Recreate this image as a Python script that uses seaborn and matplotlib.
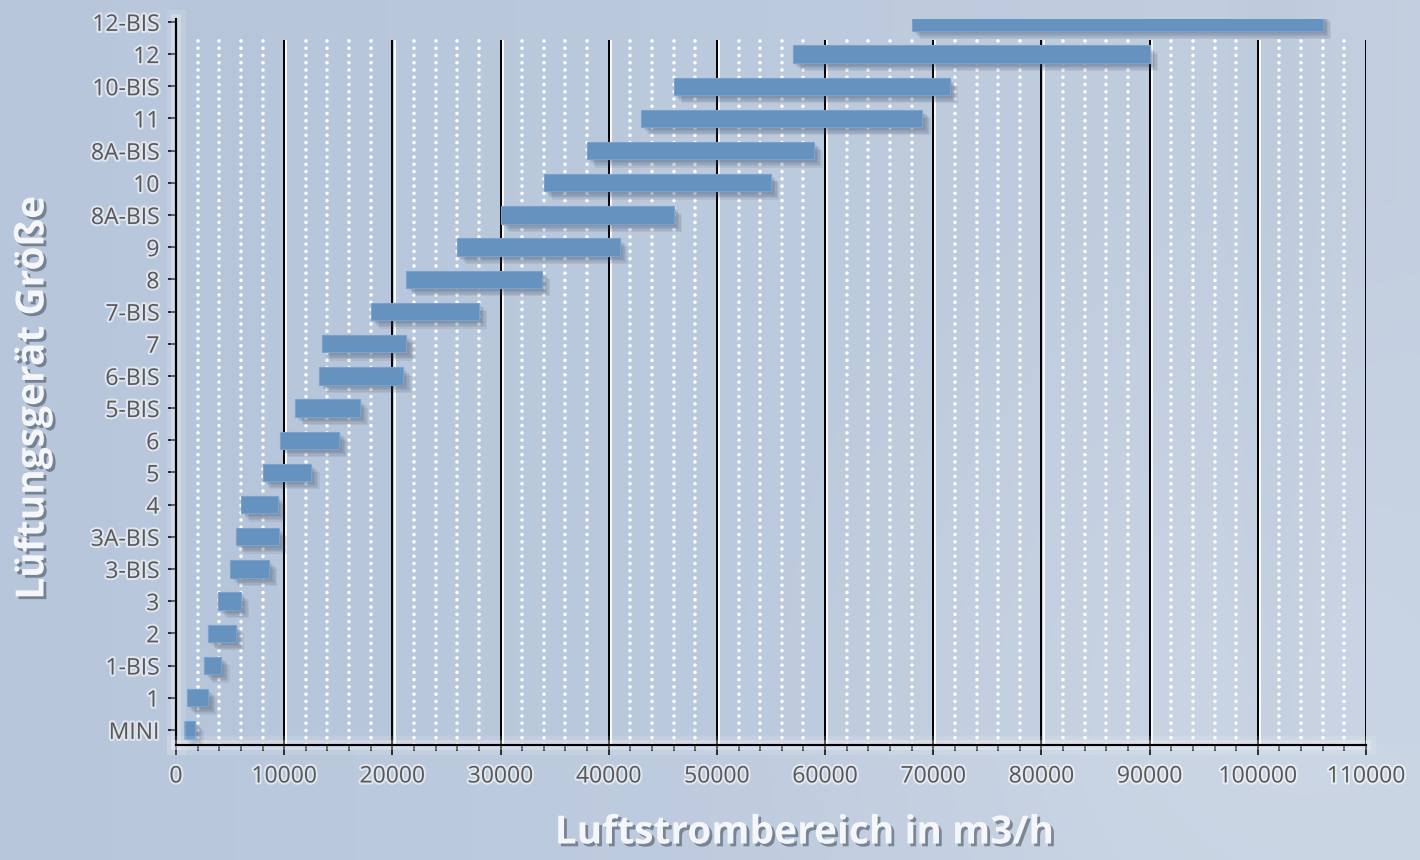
import numpy as np
import matplotlib
matplotlib.use("Agg")
import matplotlib.pyplot as plt
import matplotlib.patheffects as pe
from matplotlib.ticker import MultipleLocator
import seaborn as sns

# unit sizes, bottom to top, with airflow range in m3/h
sizes = ["MINI", "1", "1-BIS", "2", "3", "3-BIS", "3A-BIS", "4", "5", "6",
         "5-BIS", "6-BIS", "7", "7-BIS", "8", "9", "8A-BIS", "10", "8A-BIS",
         "11", "10-BIS", "12", "12-BIS"]
flow_min = [700, 1000, 2600, 3000, 3900, 5000, 5500, 6000, 8000, 9600,
            11000, 13200, 13500, 18000, 21300, 26000, 30000, 34000, 38000,
            43000, 46000, 57000, 68000]
flow_max = [1800, 3000, 4200, 5500, 6000, 8600, 9500, 9400, 12500, 15100,
            17000, 21000, 21300, 28000, 33800, 41000, 46000, 55000, 59000,
            69000, 71500, 90000, 106000]
x_major = list(range(0, 110001, 10000))

sns.set_theme(style="ticks")
plt.rcParams['font.family'] = ['Open Sans', 'DejaVu Sans']

fig = plt.figure(figsize=(14.2, 8.6), dpi=100)

# background wash
bg = fig.add_axes([0, 0, 1, 1], zorder=-10)
bg.axis('off')
h, w = 860, 1420
yy, xx = np.mgrid[0:h, 0:w]
c_left = np.array([183, 198, 219]) / 255
c_right = np.array([198, 210, 226]) / 255
t = (xx / w)[..., None]
img = c_left * (1 - t) + c_right * t
# slightly darker plot interior
inside = ((xx > 176) & (yy < 745))[..., None] * 0.06
img = img * (1 - inside) + np.array([0.55, 0.64, 0.76]) * inside
# lighter swoosh towards lower right
d = np.sqrt(((xx - 1250) / 520.0) ** 2 + ((yy - 700) / 520.0) ** 2)
light = np.clip(1.0 - d, 0, 1)[..., None] * 0.35
img = img * (1 - light) + np.array([0.86, 0.89, 0.93]) * light
# darker vertical band near the right
band = np.exp(-((xx - 1275) / 40.0) ** 2)[..., None] * 0.10 * (yy < 745)[..., None]
img = img * (1 - band) + np.array([0.62, 0.70, 0.80]) * band
bg.imshow(img, aspect='auto', extent=[0, 1, 0, 1], transform=bg.transAxes)

ax = fig.add_axes([176 / 1420, 115 / 860, 1190 / 1420, 726 / 860])
ax.set_facecolor('none')

y_pos = np.arange(len(sizes))
ax.set_xlim(0, 110000)
ax.set_ylim(-0.47, 22.09)

# dotted white minor grid, solid black major grid
minor_x = [v for v in range(2000, 110000, 2000) if v % 10000]
mg = ax.vlines(minor_x, -0.47, 21.45, colors='white', linestyles=(0, (0.01, 2.0)), lw=2.6, zorder=1)
mg.set_capstyle('round')
ax.vlines(x_major[1:], -0.47, 21.45, colors='black', lw=1.4, zorder=1,
          path_effects=[pe.SimpleLineShadow(offset=(1.6, 0), shadow_color='white', alpha=0.9), pe.Normal()])

widths = np.array(flow_max) - np.array(flow_min)
bars = ax.barh(y_pos, widths, left=flow_min, height=0.54, color='#6592BF',
               edgecolor='#7AA2CB', linewidth=0.8, zorder=3)
soft_shadow = [pe.SimplePatchShadow(offset=(k, -k), shadow_rgbFace='#33425a', alpha=0.09)
               for k in (6, 5, 4, 3, 2)] + [pe.Normal()]
for b in bars:
    b.set_path_effects(soft_shadow)

ax.set_yticks(y_pos)
ax.set_yticklabels(sizes)
ax.set_xticks(x_major)
ax.xaxis.set_minor_locator(MultipleLocator(2000))

for s in ['top', 'right']:
    ax.spines[s].set_visible(False)
for s in ['left', 'bottom']:
    ax.spines[s].set_color('black')
    ax.spines[s].set_linewidth(1.5)
    ax.spines[s].set_path_effects([pe.withStroke(linewidth=14, foreground='white', alpha=0.12),
                                   pe.withStroke(linewidth=7, foreground='white', alpha=0.25)])
    ax.spines[s].set_zorder(4)

ax.tick_params(axis='x', which='major', length=7, width=1.3, color='black', pad=7,
               labelsize=16.5, labelcolor='#595959')
ax.tick_params(axis='x', which='minor', length=4, width=1.1, color='black')
ax.tick_params(axis='y', which='major', length=6, width=1.3, color='black', pad=6,
               labelsize=16.5, labelcolor='#595959')
for lab in ax.get_xticklabels() + ax.get_yticklabels():
    lab.set_path_effects([pe.withStroke(linewidth=3, foreground='white', alpha=0.55)])

title_fx = [pe.withSimplePatchShadow(offset=(2, -2), shadow_rgbFace='#4a5566', alpha=0.6)]
fig.text(804 / 1420, 1 - 833 / 860, 'Luftstrombereich in m3/h', ha='center', va='center',
         fontsize=28, fontweight='bold', color='#F4F6FA', path_effects=title_fx)
fig.text(33 / 1420, 1 - 398 / 860, 'Lüftungsgerät Größe', ha='center', va='center',
         rotation=90, fontsize=28, fontweight='bold', color='#F4F6FA', path_effects=title_fx)

fig.savefig('out.png', dpi=100)
